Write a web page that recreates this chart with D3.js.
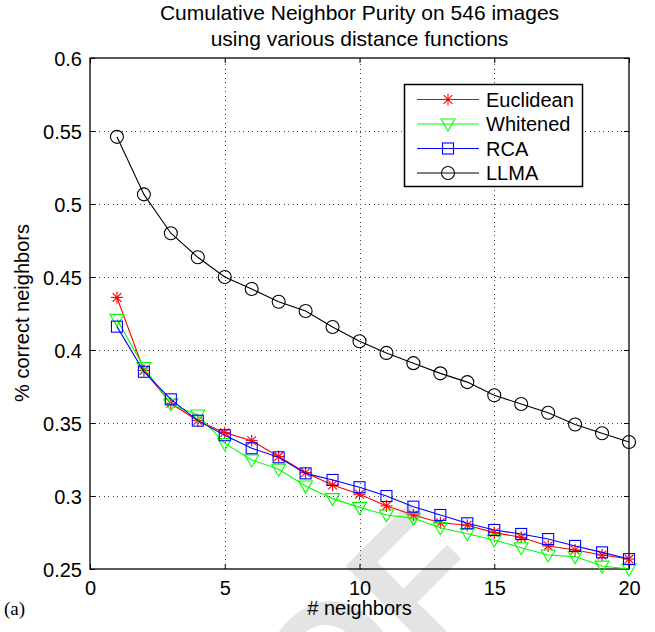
<!DOCTYPE html>
<html>
<head>
<meta charset="utf-8">
<script src="https://cdn.jsdelivr.net/npm/d3@7"></script>
<style>
  html, body { margin: 0; padding: 0; background: #fff; }
  svg { display: block; }
  text { font-family: "Liberation Sans", Arial, Helvetica, sans-serif; fill: #000; }
</style>
</head>
<body>
<svg id="chart" width="655" height="632"></svg>
<script>
// Number of neighbours considered (x axis)
const neighbors = d3.range(1, 21);

// Fraction of correct neighbours for each distance function
const euclidean = [0.436, 0.386, 0.3635, 0.3516, 0.3434, 0.3379, 0.327, 0.316, 0.3075, 0.3012,
                   0.2932, 0.287, 0.2817, 0.280, 0.2749, 0.2717, 0.2658, 0.263, 0.2596, 0.2568];
const whitened  = [0.421, 0.388, 0.363, 0.3555, 0.336, 0.3247, 0.3183, 0.3068, 0.2982, 0.2922,
                   0.287, 0.2847, 0.2783, 0.2742, 0.2699, 0.2646, 0.2596, 0.2585, 0.252, 0.250];
const rca       = [0.416, 0.3851, 0.3662, 0.3516, 0.3416, 0.3327, 0.3265, 0.3155, 0.311, 0.306,
                   0.300, 0.2927, 0.287, 0.2813, 0.2767, 0.274, 0.2705, 0.2658, 0.2614, 0.2568];
const llma      = [0.546, 0.5066, 0.480, 0.4635, 0.450, 0.4418, 0.433, 0.4267, 0.4158, 0.406,
                   0.398, 0.391, 0.384, 0.378, 0.369, 0.363, 0.357, 0.349, 0.343, 0.337];

const seriesNames  = ["Euclidean", "Whitened", "RCA", "LLMA"];
const seriesColors = ["#ff0000", "#00ff00", "#0000ff", "#000000"];
const seriesMarks  = ["star", "triangle", "square", "circle"];

const xTicks = [0, 5, 10, 15, 20];
const yTicks = [0.25, 0.3, 0.35, 0.4, 0.45, 0.5, 0.55, 0.6];
const yTickLabels = ["0.25", "0.3", "0.35", "0.4", "0.45", "0.5", "0.55", "0.6"];

const titleLines = ["Cumulative Neighbor Purity on 546 images", "using various distance functions"];

const svg = d3.select("#chart");
const m = { left: 90, right: 629, top: 58, bottom: 569 };

const x = d3.scaleLinear().domain([0, 20]).range([m.left, m.right]);
const y = d3.scaleLinear().domain([0.25, 0.6]).range([m.bottom, m.top]);

// faint proof watermark behind the plot
svg.append("text")
  .attr("transform", "translate(498,584) rotate(-45)")
  .attr("text-anchor", "end")
  .style("font-size", "175px")
  .style("font-weight", "bold")
  .style("fill", "#e4e4e4")
  .text("PROOF");

// dotted grid
const grid = svg.append("g").attr("stroke", "#444").attr("stroke-width", 1)
  .attr("stroke-dasharray", "1,3.5").attr("shape-rendering", "crispEdges");
grid.selectAll("line.gx").data(xTicks.slice(1, -1)).join("line")
  .attr("x1", d => Math.round(x(d)) + 0.5).attr("x2", d => Math.round(x(d)) + 0.5)
  .attr("y1", m.bottom).attr("y2", m.top);
grid.selectAll("line.gy").data(yTicks.slice(1, -1)).join("line")
  .attr("y1", d => Math.round(y(d)) + 0.5).attr("y2", d => Math.round(y(d)) + 0.5)
  .attr("x1", m.left).attr("x2", m.right);

// axes with inward ticks on all four sides
const tickLen = 5;
const xBottom = d3.axisBottom(x).tickValues(xTicks).tickSizeInner(-tickLen).tickSizeOuter(0).tickPadding(12);
const xTop = d3.axisTop(x).tickValues(xTicks).tickSizeInner(-tickLen).tickSizeOuter(0).tickFormat("");
const yLeft = d3.axisLeft(y).tickValues(yTicks).tickSizeInner(-tickLen).tickSizeOuter(0).tickPadding(8)
  .tickFormat((d, i) => yTickLabels[i]);
const yRight = d3.axisRight(y).tickValues(yTicks).tickSizeInner(-tickLen).tickSizeOuter(0).tickFormat("");

function styleAxis(g) {
  g.select(".domain").remove();
  g.selectAll(".tick line").attr("stroke", "#000");
  g.selectAll(".tick text").style("font-size", "20px").attr("fill", "#000");
}
svg.append("g").attr("transform", `translate(0,${m.bottom})`).call(xBottom).call(styleAxis);
svg.append("g").attr("transform", `translate(0,${m.top})`).call(xTop).call(styleAxis);
svg.append("g").attr("transform", `translate(${m.left},0)`).call(yLeft).call(styleAxis)
  .selectAll(".tick text").attr("dy", "0.36em");
svg.append("g").attr("transform", `translate(${m.right},0)`).call(yRight).call(styleAxis);

// box
svg.append("rect")
  .attr("x", m.left).attr("y", m.top)
  .attr("width", m.right - m.left).attr("height", m.bottom - m.top)
  .attr("fill", "none").attr("stroke", "#000").attr("stroke-width", 1.3);

// marker drawing
function drawMarker(g, kind, color, cx, cy) {
  const s = g.append("g").attr("transform", `translate(${cx},${cy})`)
    .attr("stroke", color).attr("fill", "none").attr("stroke-width", 1.1);
  if (kind === "star") {
    const r = 6;
    const d = r * 0.72;
    s.append("line").attr("x1", -r).attr("x2", r).attr("y1", 0).attr("y2", 0);
    s.append("line").attr("x1", 0).attr("x2", 0).attr("y1", -r).attr("y2", r);
    s.append("line").attr("x1", -d).attr("x2", d).attr("y1", -d).attr("y2", d);
    s.append("line").attr("x1", -d).attr("x2", d).attr("y1", d).attr("y2", -d);
  } else if (kind === "triangle") {
    s.append("path").attr("d", "M-7,-5L7,-5L0,7Z");
  } else if (kind === "square") {
    s.append("rect").attr("x", -5.5).attr("y", -5.5).attr("width", 11).attr("height", 11);
  } else {
    s.append("circle").attr("r", 6.5);
  }
}

const allSeries = [euclidean, whitened, rca, llma];
const line = d3.line().x((d, i) => x(neighbors[i])).y(d => y(d));
const plot = svg.append("g");
allSeries.forEach((vals, k) => {
  const g = plot.append("g");
  g.append("path").datum(vals).attr("d", line)
    .attr("fill", "none").attr("stroke", seriesColors[k]).attr("stroke-width", 1.1);
  vals.forEach((v, i) => drawMarker(g, seriesMarks[k], seriesColors[k], x(neighbors[i]), y(v)));
});

// legend
const lg = svg.append("g");
lg.append("rect").attr("x", 404.5).attr("y", 84.5).attr("width", 178).attr("height", 102)
  .attr("fill", "#fff").attr("stroke", "#000").attr("stroke-width", 1.5);
seriesNames.forEach((name, k) => {
  const ly = 99.5 + k * 24.5;
  lg.append("line").attr("x1", 417).attr("x2", 479).attr("y1", ly).attr("y2", ly)
    .attr("stroke", seriesColors[k]).attr("stroke-width", 1.1);
  drawMarker(lg, seriesMarks[k], seriesColors[k], 448, ly);
  lg.append("text").attr("x", 486).attr("y", ly).attr("dy", "0.36em")
    .style("font-size", "20px").text(name);
});

// titles and labels
svg.append("text").attr("x", (m.left + m.right) / 2).attr("y", 20)
  .attr("text-anchor", "middle").style("font-size", "21px").text(titleLines[0]);
svg.append("text").attr("x", (m.left + m.right) / 2).attr("y", 46)
  .attr("text-anchor", "middle").style("font-size", "21px").text(titleLines[1]);
svg.append("text").attr("x", (m.left + m.right) / 2).attr("y", 615)
  .attr("text-anchor", "middle").style("font-size", "20px").text("# neighbors");
svg.append("text").attr("transform", "translate(29,313) rotate(-90)")
  .attr("text-anchor", "middle").style("font-size", "20px").text("% correct neighbors");
svg.append("text").attr("x", 4).attr("y", 615)
  .style("font-family", "'Liberation Serif', 'Times New Roman', serif").style("font-size", "19px").text("(a)");
</script>
</body>
</html>
